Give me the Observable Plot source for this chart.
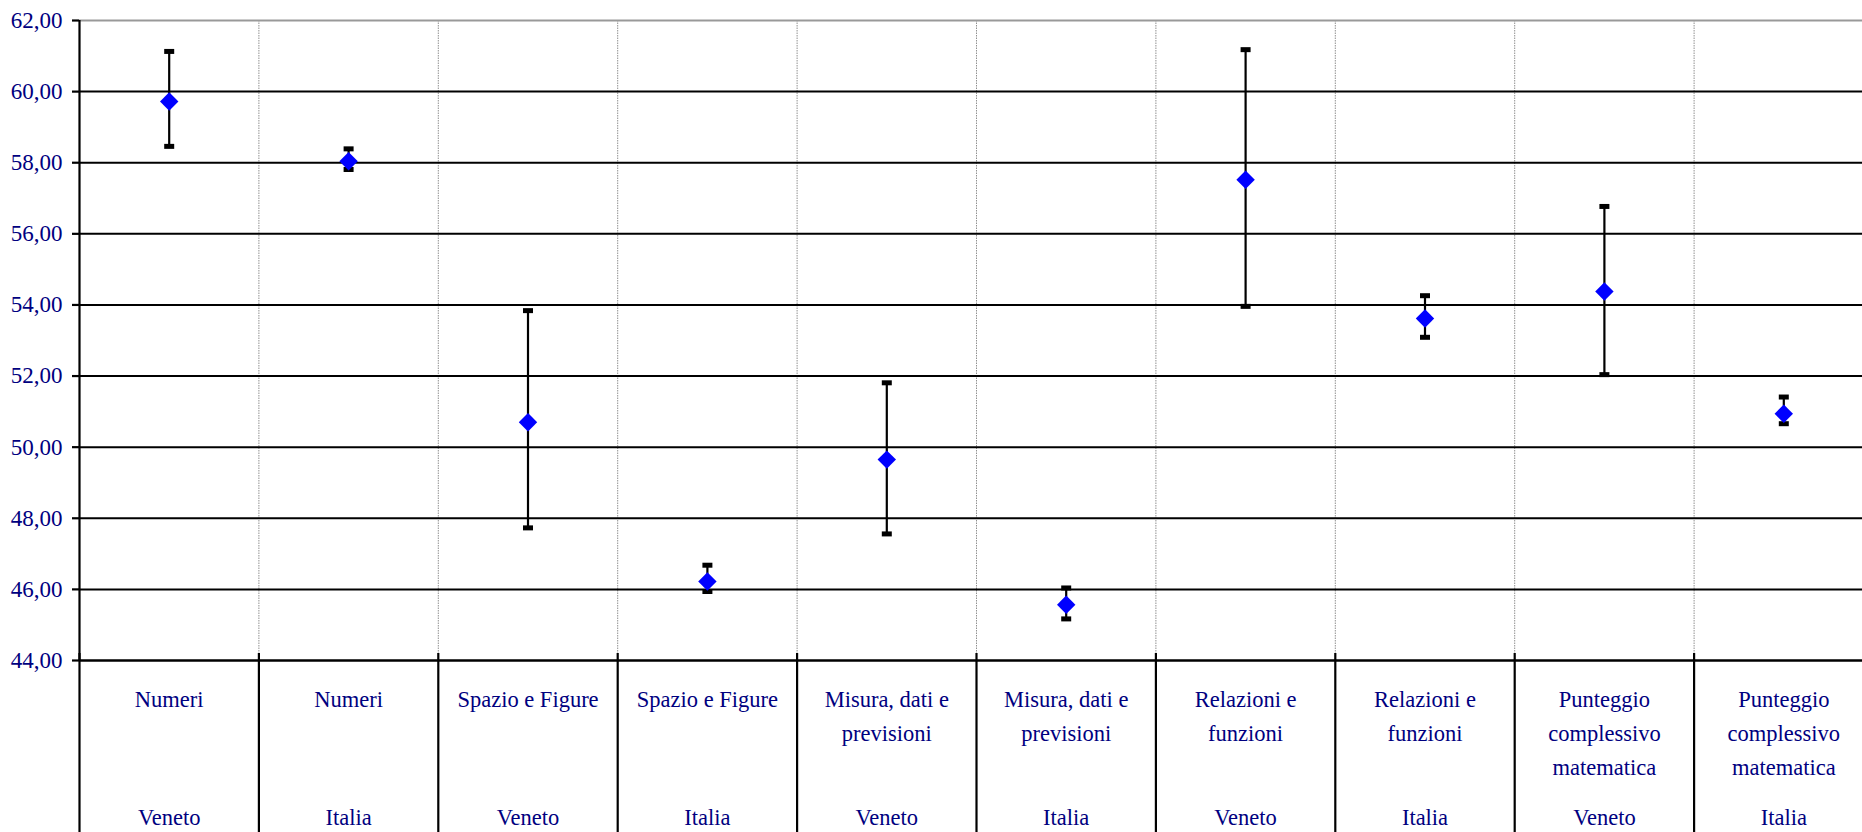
<!DOCTYPE html>
<html><head><meta charset="utf-8">
<script src="https://cdn.jsdelivr.net/npm/d3@7"></script>
<script src="https://cdn.jsdelivr.net/npm/@observablehq/plot@0.6"></script>
<style>
html,body{margin:0;padding:0;background:#fff;overflow:hidden;}
</style>
</head><body><div id="chart"></div>
<script>
const topics = ["Numeri","Numeri","Spazio e Figure","Spazio e Figure","Misura, dati e\nprevisioni","Misura, dati e\nprevisioni","Relazioni e\nfunzioni","Relazioni e\nfunzioni","Punteggio\ncomplessivo\nmatematica","Punteggio\ncomplessivo\nmatematica"];
const regions = ["Veneto","Italia","Veneto","Italia","Veneto","Italia","Veneto","Italia","Veneto","Italia"];
const means = [59.72, 58.04, 50.70, 46.22, 49.65, 45.57, 57.52, 53.62, 54.38, 50.94];
const lows  = [58.46, 57.81, 47.73, 45.94, 47.56, 45.17, 53.96, 53.09, 52.04, 50.66];
const highs = [61.13, 58.39, 53.84, 46.68, 51.81, 46.04, 61.18, 54.26, 56.77, 51.41];
const yTicks = [44, 46, 48, 50, 52, 54, 56, 58, 60, 62];

const data = topics.map((t, i) => ({pos: i + 0.5, topic: t, region: regions[i], mean: means[i], lo: lows[i], hi: highs[i]}));
const boundaries = d3.range(0, topics.length + 1);
const fmt = d => d.toFixed(2).replace(".", ",");
const capSymbol = {draw(ctx) { ctx.rect(-5, -2.5, 10, 5); }};
const font = "'Liberation Serif', 'Times New Roman', serif";
const textColor = "#000080";

const chart = Plot.plot({
  width: 1862,
  height: 832,
  marginLeft: 79,
  marginRight: 0,
  marginTop: 20,
  marginBottom: 172,
  style: {fontFamily: font, background: "#fff", overflow: "visible"},
  x: {domain: [0, topics.length], range: [79, 1873], axis: null},
  y: {domain: [44, 62], axis: null},
  marks: [
    // dotted vertical gridlines at category boundaries
    Plot.ruleX(boundaries.slice(1, -1), {stroke: "#909090", strokeWidth: 1, strokeDasharray: "1.5,1"}),
    // horizontal gridlines
    Plot.ruleY(yTicks.slice(1, -1), {stroke: "#000", strokeWidth: 2}),
    Plot.ruleY(yTicks.slice(-1), {stroke: "#999", strokeWidth: 2}),
    Plot.ruleY(yTicks.slice(0, 1), {stroke: "#000", strokeWidth: 2.5}),
    // y axis line
    Plot.ruleX(boundaries.slice(0, 1), {stroke: "#000", strokeWidth: 2.2}),
    // category separators below the axis
    Plot.ruleX(boundaries, {y1: yTicks[0], y2: yTicks[0], insetTop: -7, insetBottom: -190, stroke: "#000", strokeWidth: 2.2}),
    Plot.axisY(yTicks, {tickSize: 7, tickPadding: 10, stroke: "#000", strokeWidth: 2.2, fill: textColor, fontSize: 23, tickFormat: fmt, label: null}),
    // error bars
    Plot.ruleX(data, {x: "pos", y1: "lo", y2: "hi", stroke: "#000", strokeWidth: 2.2}),
    Plot.dot(data, {x: "pos", y: "hi", symbol: capSymbol, fill: "#000", r: 3}),
    Plot.dot(data, {x: "pos", y: "lo", symbol: capSymbol, fill: "#000", r: 3}),
    Plot.dot(data, {x: "pos", y: "mean", symbol: "diamond2", fill: "#0000ff", r: 8.3}),
    // category labels
    Plot.text(data, {x: "pos", frameAnchor: "bottom", text: "topic", lineAnchor: "top", dy: 23, lineHeight: 1.5, fontSize: 22.5, fill: textColor}),
    Plot.text(data, {x: "pos", frameAnchor: "bottom", text: "region", lineAnchor: "top", dy: 149, fontSize: 22.5, fill: textColor})
  ]
});
document.getElementById("chart").appendChild(chart);
</script>
</body></html>
